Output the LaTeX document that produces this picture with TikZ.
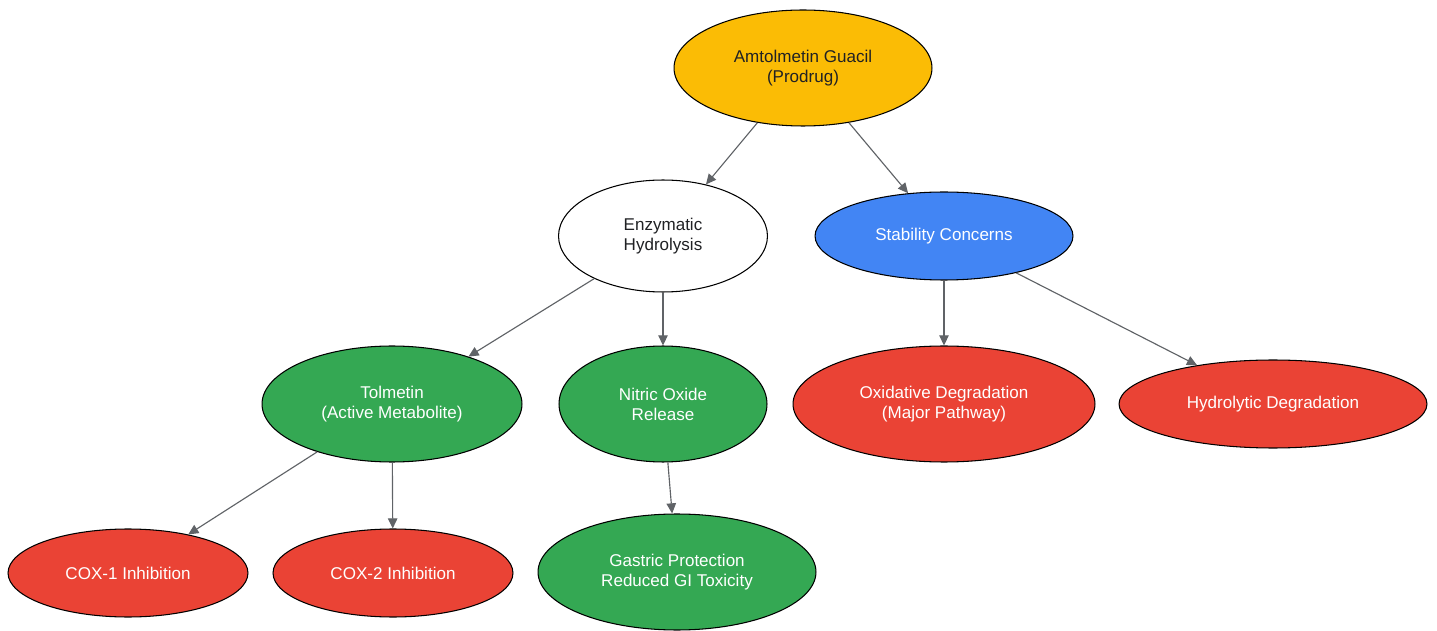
\documentclass[tikz,border=0pt]{standalone}
\usepackage{fontspec}
\setmainfont{Liberation Sans}
\usetikzlibrary{shapes.geometric,arrows.meta}
\definecolor{gyellow}{HTML}{FBBC05}
\definecolor{gblue}{HTML}{4285F4}
\definecolor{ggreen}{HTML}{34A853}
\definecolor{gred}{HTML}{EA4335}
\definecolor{edgegray}{HTML}{606367}
\definecolor{darktext}{HTML}{202124}
\tikzset{
  el/.style={ellipse, draw=black, line width=0.6pt, inner sep=0pt, align=center,
    font=\fontsize{9.7pt}{11.4pt}\selectfont},
  ylw/.style={el, fill=gyellow, text=darktext},
  wht/.style={el, fill=white, text=darktext},
  blu/.style={el, fill=gblue, text=white},
  grn/.style={el, fill=ggreen, text=white},
  rd/.style={el, fill=gred, text=white},
  conn/.style={draw=edgegray, line width=0.65pt, -{Triangle[length=5.8pt,width=5.4pt]}}
}
\begin{document}
\begin{tikzpicture}[x=0.02cm,y=-0.02cm]
\useasboundingbox (0,0) rectangle (1437,631);
\node[ylw, minimum width=5.16cm, minimum height=2.32cm] (amt) at (803,68) {Amtolmetin Guacil\\(Prodrug)};
\node[wht, minimum width=4.18cm, minimum height=2.24cm] (enz) at (663,236) {Enzymatic\\Hydrolysis};
\node[blu, minimum width=5.16cm, minimum height=1.76cm] (stab) at (944,236) {Stability Concerns};
\node[grn, minimum width=5.2cm, minimum height=2.32cm] (tol) at (392,404) {Tolmetin\\(Active Metabolite)};
\node[grn, minimum width=4.16cm, minimum height=2.32cm] (no) at (663,404) {Nitric Oxide\\Release};
\node[rd, minimum width=6.04cm, minimum height=2.32cm] (oxd) at (944,404) {Oxidative Degradation\\(Major Pathway)};
\node[rd, minimum width=6.16cm, minimum height=1.76cm] (hyd) at (1273,404) {Hydrolytic Degradation};
\node[rd, minimum width=4.8cm, minimum height=1.76cm] (cox1) at (128,573) {COX-1 Inhibition};
\node[rd, minimum width=4.8cm, minimum height=1.76cm] (cox2) at (393,573) {COX-2 Inhibition};
\node[grn, minimum width=5.56cm, minimum height=2.32cm] (gas) at (677,572) {Gastric Protection\\Reduced GI Toxicity};
\draw[conn] (amt) -- (enz);
\draw[conn] (amt) -- (stab);
\draw[conn] (enz) -- (tol);
\draw[conn] (enz) -- (no);
\draw[conn] (stab) -- (oxd);
\draw[conn] (stab) -- (hyd);
\draw[conn] (tol) -- (cox1);
\draw[conn] (tol) -- (cox2);
\draw[conn] (no) -- (gas);
\end{tikzpicture}
\end{document}
